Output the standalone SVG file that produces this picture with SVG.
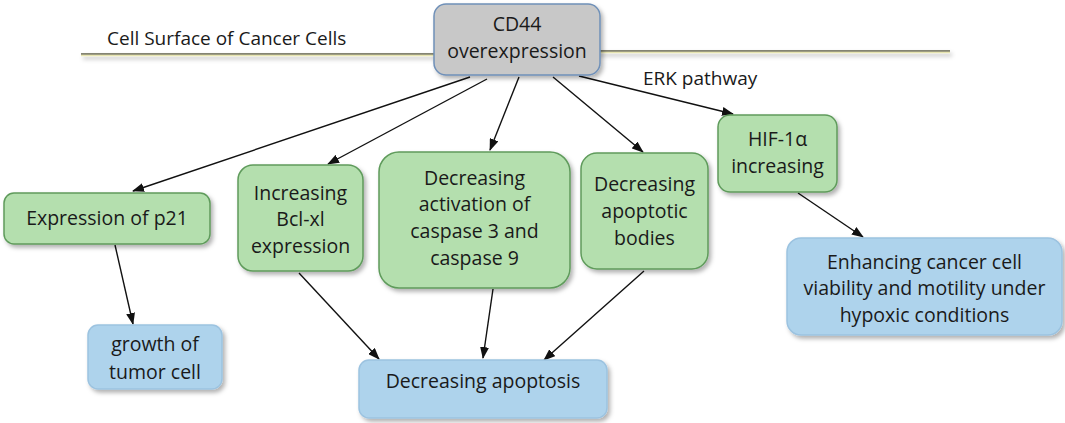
<svg xmlns="http://www.w3.org/2000/svg" width="1065" height="423" viewBox="0 0 1065 423">
<style>
text{font-family:"Open Sans","Noto Sans","Liberation Sans",sans-serif;font-size:19.5px;fill:#1a1a1a;text-anchor:middle}
.lbl{font-size:19px;text-anchor:start}
.green{fill:#b4dfae;stroke:#5f9b5b;stroke-width:1.5}
.blue{fill:#aed3ec;stroke:#9cc3e0;stroke-width:1.5}
.grey{fill:#c8c8c8;stroke:#6f90b8;stroke-width:1.5}
.conn line{stroke:#111;stroke-width:1.4;marker-end:url(#ah)}
</style>
<defs>
<filter id="sh" x="-10%" y="-10%" width="125%" height="130%">
<feDropShadow dx="2.5" dy="3" stdDeviation="2" flood-color="#000" flood-opacity="0.3"/>
</filter>
<filter id="lsh" x="-5%" y="-200%" width="110%" height="500%">
<feDropShadow dx="2" dy="3" stdDeviation="2" flood-color="#000" flood-opacity="0.25"/>
</filter>
<marker id="ah" markerUnits="userSpaceOnUse" markerWidth="12" markerHeight="9" refX="11" refY="4.5" orient="auto">
<path d="M0,0 L12,4.5 L0,9 z" fill="#111"/>
</marker>
</defs>
<rect width="1065" height="423" fill="#fff"/>
<g id="surface" filter="url(#lsh)">
<line x1="81" y1="54" x2="440" y2="54" stroke="#5e5e48" stroke-width="1.6"/>
<line x1="81" y1="55.5" x2="440" y2="55.5" stroke="#e6e4b0" stroke-width="1.4"/>
<line x1="595" y1="51" x2="950" y2="51" stroke="#5e5e48" stroke-width="1.6"/>
<line x1="595" y1="52.5" x2="950" y2="52.5" stroke="#e6e4b0" stroke-width="1.4"/>
</g>
<text class="lbl" x="107" y="45">Cell Surface of Cancer Cells</text>
<text class="lbl" x="643" y="85">ERK pathway</text>
<g class="conn" id="connectors">
<line x1="470" y1="77" x2="133" y2="191"/>
<line x1="487" y1="79" x2="328" y2="164"/>
<line x1="519" y1="77" x2="490" y2="150"/>
<line x1="553" y1="77" x2="643" y2="152"/>
<line x1="579" y1="76" x2="733" y2="114"/>
<line x1="115" y1="245" x2="133" y2="324"/>
<line x1="299" y1="273" x2="379" y2="359"/>
<line x1="493" y1="289" x2="483" y2="358"/>
<line x1="644" y1="271" x2="544" y2="360"/>
<line x1="798" y1="193" x2="863" y2="237"/>
</g>
<g id="cd44">
<rect class="grey" x="434" y="4" width="166" height="71" rx="12" filter="url(#sh)"/>
<text x="517" y="31">CD44</text>
<text x="517" y="58">overexpression</text>
</g>
<g id="p21">
<rect class="green" x="4" y="193" width="206" height="51" rx="10" filter="url(#sh)"/>
<text x="107" y="225">Expression of p21</text>
</g>
<g id="bclxl">
<rect class="green" x="238" y="165" width="125" height="106" rx="15" filter="url(#sh)"/>
<text x="300.5" y="200">Increasing</text>
<text x="300.5" y="226">Bcl-xl</text>
<text x="300.5" y="253">expression</text>
</g>
<g id="caspase">
<rect class="green" x="379" y="152" width="191" height="136" rx="20" filter="url(#sh)"/>
<text x="474.5" y="185">Decreasing</text>
<text x="474.5" y="211">activation of</text>
<text x="474.5" y="238">caspase 3 and</text>
<text x="474.5" y="265">caspase 9</text>
</g>
<g id="bodies">
<rect class="green" x="581" y="153" width="127" height="116" rx="16" filter="url(#sh)"/>
<text x="644.5" y="191">Decreasing</text>
<text x="644.5" y="218">apoptotic</text>
<text x="644.5" y="245">bodies</text>
</g>
<g id="hif">
<rect class="green" x="718" y="115" width="119" height="77" rx="12" filter="url(#sh)"/>
<text x="777.5" y="146">HIF-1α</text>
<text x="777.5" y="173">increasing</text>
</g>
<g id="growth">
<rect class="blue" x="88" y="325" width="134" height="64" rx="10" filter="url(#sh)"/>
<text x="155" y="351">growth of</text>
<text x="155" y="379">tumor cell</text>
</g>
<g id="apoptosis">
<rect class="blue" x="359" y="360" width="248" height="58" rx="10" filter="url(#sh)"/>
<text x="483" y="388">Decreasing apoptosis</text>
</g>
<g id="enhancing">
<rect class="blue" x="787" y="238" width="275" height="97" rx="14" filter="url(#sh)"/>
<text x="924.5" y="269">Enhancing cancer cell</text>
<text x="924.5" y="295">viability and motility under</text>
<text x="924.5" y="322">hypoxic conditions</text>
</g>
</svg>
